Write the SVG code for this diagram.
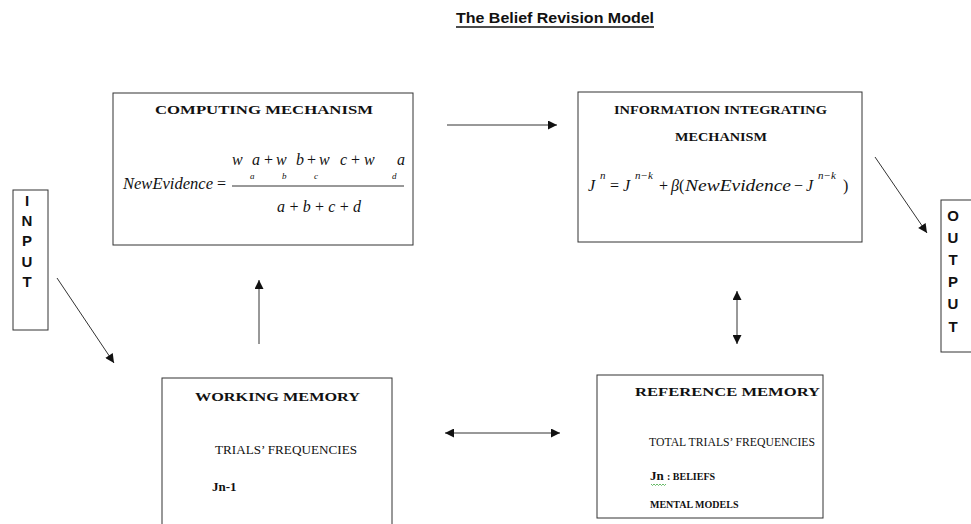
<svg xmlns="http://www.w3.org/2000/svg" width="971" height="524" viewBox="0 0 971 524">
<style>
.box{fill:#fff;stroke:#333;stroke-width:1}
.ttl{font-family:"Liberation Serif",serif;font-weight:bold;font-size:13px;fill:#111}
.reg{font-family:"Liberation Serif",serif;font-size:12px;fill:#111}
.bsm{font-family:"Liberation Serif",serif;font-weight:bold;font-size:10px;fill:#111}
.math{font-family:"Liberation Serif",serif;font-style:italic;font-size:16px;fill:#111}
.sub{font-family:"Liberation Serif",serif;font-style:italic;font-size:9px;fill:#111}
.sup{font-family:"Liberation Serif",serif;font-style:italic;font-size:11px;fill:#111}
.mop{font-family:"Liberation Serif",serif;font-style:normal;font-size:16px;fill:#111}
.io{font-family:"Liberation Sans",sans-serif;font-weight:bold;font-size:15px;fill:#111}
.conn{stroke:#333;stroke-width:1;fill:none}
</style>
<defs>
<marker id="ah" viewBox="0 0 10 10" refX="10" refY="5" markerWidth="10" markerHeight="9" markerUnits="userSpaceOnUse" orient="auto-start-reverse">
<path d="M0,0 L10,5 L0,10 z" fill="#111"/>
</marker>
</defs>
<rect width="971" height="524" fill="#fff"/>
<g id="title">
<text x="555" y="23" text-anchor="middle" font-family="'Liberation Sans',sans-serif" font-weight="bold" font-size="15" textLength="198" lengthAdjust="spacingAndGlyphs" fill="#111">The Belief Revision Model</text>
<line x1="456" y1="27" x2="654" y2="27" stroke="#111" stroke-width="1.5"/>
</g>
<g id="computing">
<rect class="box" x="113" y="93" width="300" height="152"/>
<text class="ttl" x="155" y="114" textLength="218" lengthAdjust="spacingAndGlyphs">COMPUTING MECHANISM</text>
<text class="math" x="123" y="189" textLength="90" lengthAdjust="spacingAndGlyphs">NewEvidence</text>
<text class="mop" x="217" y="189">=</text>
<text class="math" y="165"><tspan x="232">w</tspan><tspan x="252">a</tspan><tspan class="mop" x="264">+</tspan><tspan x="276">w</tspan><tspan x="296">b</tspan><tspan class="mop" x="307">+</tspan><tspan x="319">w</tspan><tspan x="340">c</tspan><tspan class="mop" x="351">+</tspan><tspan x="364">w</tspan><tspan x="397">a</tspan></text>
<text class="sub" y="179"><tspan x="250">a</tspan><tspan x="282">b</tspan><tspan x="314">c</tspan><tspan x="392">d</tspan></text>
<line x1="232" y1="186" x2="404" y2="186" stroke="#333" stroke-width="1"/>
<text class="math" x="277" y="212" textLength="84" lengthAdjust="spacing">a + b + c + d</text>
</g>
<g id="integrating">
<rect class="box" x="578" y="92" width="284" height="150"/>
<text class="ttl" x="614" y="114" textLength="213" lengthAdjust="spacingAndGlyphs">INFORMATION INTEGRATING</text>
<text class="ttl" x="675" y="141" textLength="92" lengthAdjust="spacingAndGlyphs">MECHANISM</text>
<text class="math" y="191"><tspan x="588">J</tspan><tspan class="mop" x="610">=</tspan><tspan x="623">J</tspan><tspan class="mop" x="659">+</tspan><tspan x="671">β</tspan><tspan class="mop" x="679">(</tspan><tspan x="685" textLength="106" lengthAdjust="spacingAndGlyphs">NewEvidence</tspan><tspan class="mop" x="794">−</tspan><tspan x="806">J</tspan><tspan class="mop" x="843">)</tspan></text>
<text class="sup" y="179"><tspan x="600">n</tspan><tspan x="635">n−k</tspan><tspan x="818">n−k</tspan></text>
</g>
<g id="input">
<rect class="box" x="13" y="190" width="35" height="140"/>
<text class="io" text-anchor="middle"><tspan x="27" y="206">I</tspan><tspan x="27" y="226">N</tspan><tspan x="27" y="246">P</tspan><tspan x="27" y="267">U</tspan><tspan x="27" y="287">T</tspan></text>
</g>
<g id="output">
<rect class="box" x="941" y="200" width="40" height="152"/>
<text class="io" text-anchor="middle"><tspan x="953" y="221">O</tspan><tspan x="953" y="243">U</tspan><tspan x="953" y="265">T</tspan><tspan x="953" y="287">P</tspan><tspan x="953" y="309">U</tspan><tspan x="953" y="332">T</tspan></text>
</g>
<g id="working">
<rect class="box" x="162" y="378" width="230" height="154"/>
<text class="ttl" x="195" y="401" textLength="165" lengthAdjust="spacingAndGlyphs">WORKING MEMORY</text>
<text class="reg" x="215" y="454" textLength="142" lengthAdjust="spacingAndGlyphs">TRIALS’ FREQUENCIES</text>
<text class="ttl" x="212" y="491" font-size="14">Jn-1</text>
</g>
<g id="reference">
<rect class="box" x="597" y="375" width="226" height="143"/>
<text class="ttl" x="635" y="396" textLength="185" lengthAdjust="spacingAndGlyphs">REFERENCE MEMORY</text>
<text class="reg" x="649" y="446" textLength="166" lengthAdjust="spacingAndGlyphs">TOTAL TRIALS’ FREQUENCIES</text>
<text class="ttl" x="650" y="480" font-size="14">Jn</text>
<text class="bsm" x="667" y="480">: BELIEFS</text>
<path d="M651,484 l1.5,1.5 l1.5,-1.5 l1.5,1.5 l1.5,-1.5 l1.5,1.5 l1.5,-1.5 l1.5,1.5 l1.5,-1.5 l1.5,1.5 l1.5,-1.5" fill="none" stroke="#4a4" stroke-width="0.8"/>
<text class="bsm" x="650" y="508">MENTAL MODELS</text>
</g>
<g id="connectors">
<line class="conn" x1="447" y1="125" x2="557" y2="125" marker-end="url(#ah)"/>
<line class="conn" x1="259" y1="344" x2="259" y2="280" marker-end="url(#ah)"/>
<line class="conn" x1="737" y1="291" x2="737" y2="344" marker-start="url(#ah)" marker-end="url(#ah)"/>
<line class="conn" x1="445" y1="433" x2="560" y2="433" marker-start="url(#ah)" marker-end="url(#ah)"/>
<line class="conn" x1="57" y1="278" x2="114" y2="363" marker-end="url(#ah)"/>
<line class="conn" x1="875" y1="157" x2="927" y2="233" marker-end="url(#ah)"/>
</g>
</svg>
